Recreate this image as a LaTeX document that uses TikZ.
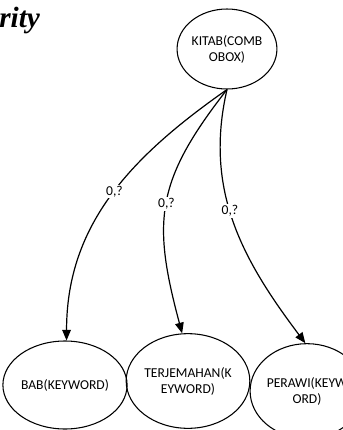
\documentclass[tikz,border=0pt]{standalone}
\usepackage{fontspec}
\newfontfamily\diagfont{Carlito}
\newfontfamily\capfont{Liberation Serif}
\usetikzlibrary{shapes.geometric,arrows.meta}

\begin{document}
\begin{tikzpicture}[x=0.75pt, y=-0.75pt, >={Triangle[length=8pt,width=6.5pt]}]
            \tikzset{entity/.style = {shape=ellipse, draw, line width=0.8pt, inner sep=0pt, align=center,
                                      font=\diagfont\fontsize{10.2}{12}\selectfont},
                     card/.style = {fill=white, inner sep=1pt, font=\diagfont\fontsize{10.2}{12}\selectfont}}
            \useasboundingbox (0,0) rectangle (343,430);

            \node[anchor=base west, inner sep=0pt, font=\capfont\bfseries\itshape\fontsize{22}{26}\selectfont] (cap) at (-1,27) {rity};

            \node[entity, minimum width=64pt, minimum height=60pt] (kitab) at (227,49) {KITAB(COMB\\OBOX)};
            \node[entity, minimum width=75pt, minimum height=66pt] (bab) at (65,385) {BAB(KEYWORD)};
            \node[entity, minimum width=75pt, minimum height=71pt] (terjemahan) at (188,381) {TERJEMAHAN(K\\EYWORD)};
            \node[entity, minimum width=75pt, minimum height=71pt] (perawi) at (307,391) {PERAWI(KEYW\\ORD)};

            \draw[->, line width=0.9pt] (kitab.south) to[out=215, in=90] node[card, pos=0.48]{0,?} (bab.88);
            \draw[->, line width=0.9pt] (kitab.south) to[out=232, in=105, looseness=1.2] node[card, pos=0.5]{0,?} (terjemahan.97);
            \draw[->, line width=0.9pt] (kitab.south) to[out=257, in=127] node[card, pos=0.45]{0,?} (perawi.92);
        \end{tikzpicture}
\end{document}
